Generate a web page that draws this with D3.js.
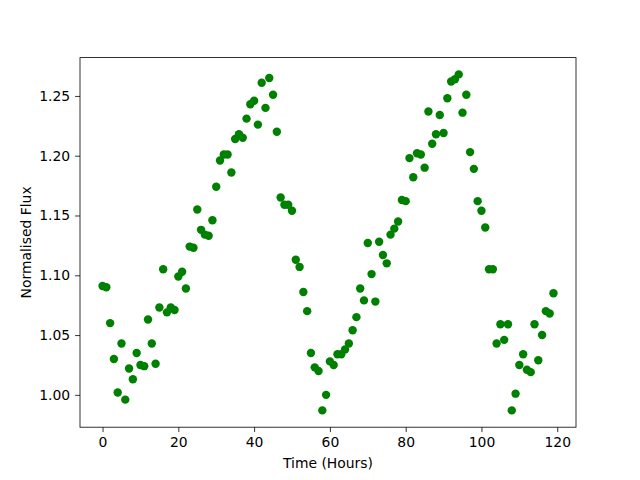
<!DOCTYPE html>
<html>
<head>
<meta charset="utf-8">
<script src="https://cdn.jsdelivr.net/npm/d3@7"></script>
<style>
  body { margin: 0; background: #fff; }
  text { font-family: "DejaVu Sans", sans-serif; }
</style>
</head>
<body>
<div id="chart"></div>
<script>

    //////////////////////
    // Data
    //////////////////////

    // flux, one point per hour starting at 0
    var flux = [
        1.091, 1.090, 1.060, 1.030, 1.002, 1.043, 0.996, 1.022, 1.013, 1.035,
        1.025, 1.024, 1.063, 1.043, 1.026, 1.073, 1.105, 1.069, 1.073, 1.071,
        1.099, 1.103, 1.089, 1.124, 1.123, 1.155, 1.138, 1.134, 1.133, 1.146,
        1.174, 1.196, 1.201, 1.201, 1.186, 1.214, 1.218, 1.215, 1.231, 1.243,
        1.246, 1.226, 1.261, 1.240, 1.265, 1.251, 1.220, 1.165, 1.159, 1.159,
        1.154, 1.113, 1.107, 1.086, 1.070, 1.035, 1.023, 1.020, 0.987, 1.000,
        1.028, 1.025, 1.034, 1.034, 1.038, 1.043, 1.054, 1.065, 1.089, 1.079,
        1.127, 1.101, 1.078, 1.128, 1.117, 1.110, 1.134, 1.139, 1.145, 1.163,
        1.162, 1.198, 1.182, 1.202, 1.201, 1.190, 1.237, 1.210, 1.218, 1.234,
        1.219, 1.248, 1.262, 1.264, 1.268, 1.236, 1.251, 1.203, 1.189, 1.162,
        1.154, 1.140, 1.105, 1.105, 1.043, 1.059, 1.046, 1.059, 0.987, 1.001,
        1.025, 1.034, 1.021, 1.019, 1.059, 1.029, 1.050, 1.070, 1.068, 1.085
    ];
    var hours = flux.map(function(d, i) { return i; });

    var xTicks = [0, 20, 40, 60, 80, 100, 120];
    var yTicks = [1.00, 1.05, 1.10, 1.15, 1.20, 1.25];
    var xLabel = "Time (Hours)";
    var yLabel = "Normalised Flux";

    //////////////////////
    // Layout
    //////////////////////

    var W = 640, H = 480;
    var padLeft = 80, padRight = 576, padTop = 57.6, padBottom = 427.2;

    var svg = d3.select("#chart").append("svg")
        .attr("width", W)
        .attr("height", H);

    // matplotlib style 5% margins around the data
    var xmin = d3.min(hours), xmax = d3.max(hours);
    var ymin = d3.min(flux), ymax = d3.max(flux);
    var xm = (xmax - xmin) * 0.05, ym = (ymax - ymin) * 0.05;

    var x = d3.scaleLinear().domain([xmin - xm, xmax + xm]).range([padLeft, padRight]);
    var y = d3.scaleLinear().domain([ymin - ym, ymax + ym]).range([padBottom, padTop]);

    //////////////////////
    // Points
    //////////////////////

    svg.append("g")
        .selectAll("circle")
        .data(flux)
        .enter()
        .append("circle")
            .attr("cx", function(d, i) { return x(hours[i]); })
            .attr("cy", function(d) { return y(d); })
            .attr("r", 4.2)
            .attr("fill", "#008000");

    //////////////////////
    // Axes
    //////////////////////

    var xAxis = svg.append("g")
        .attr("transform", "translate(0," + padBottom + ")")
        .call(d3.axisBottom(x).tickValues(xTicks).tickSize(4.9).tickPadding(4.9)
            .tickFormat(d3.format("d")));

    var yAxis = svg.append("g")
        .attr("transform", "translate(" + padLeft + ",0)")
        .call(d3.axisLeft(y).tickValues(yTicks).tickSize(4.9).tickPadding(4.9)
            .tickFormat(d3.format(".2f")));

    [xAxis, yAxis].forEach(function(a) {
        a.select(".domain").remove();
        a.selectAll("line").attr("stroke", "#000").attr("stroke-width", 0.8);
        a.selectAll("text").attr("font-size", "13.9px").attr("fill", "#000")
            .style("font-family", "DejaVu Sans");
    });

    // frame
    svg.append("rect")
        .attr("x", padLeft)
        .attr("y", padTop)
        .attr("width", padRight - padLeft)
        .attr("height", padBottom - padTop)
        .attr("fill", "none")
        .attr("stroke", "#000")
        .attr("stroke-width", 0.8);

    svg.append("text")
        .text(xLabel)
        .attr("x", (padLeft + padRight) / 2)
        .attr("y", 468)
        .attr("text-anchor", "middle")
        .attr("font-size", "13.9px");

    svg.append("text")
        .text(yLabel)
        .attr("transform", "translate(31," + ((padTop + padBottom) / 2) + ") rotate(-90)")
        .attr("text-anchor", "middle")
        .attr("font-size", "13.9px");

</script>
</body>
</html>
